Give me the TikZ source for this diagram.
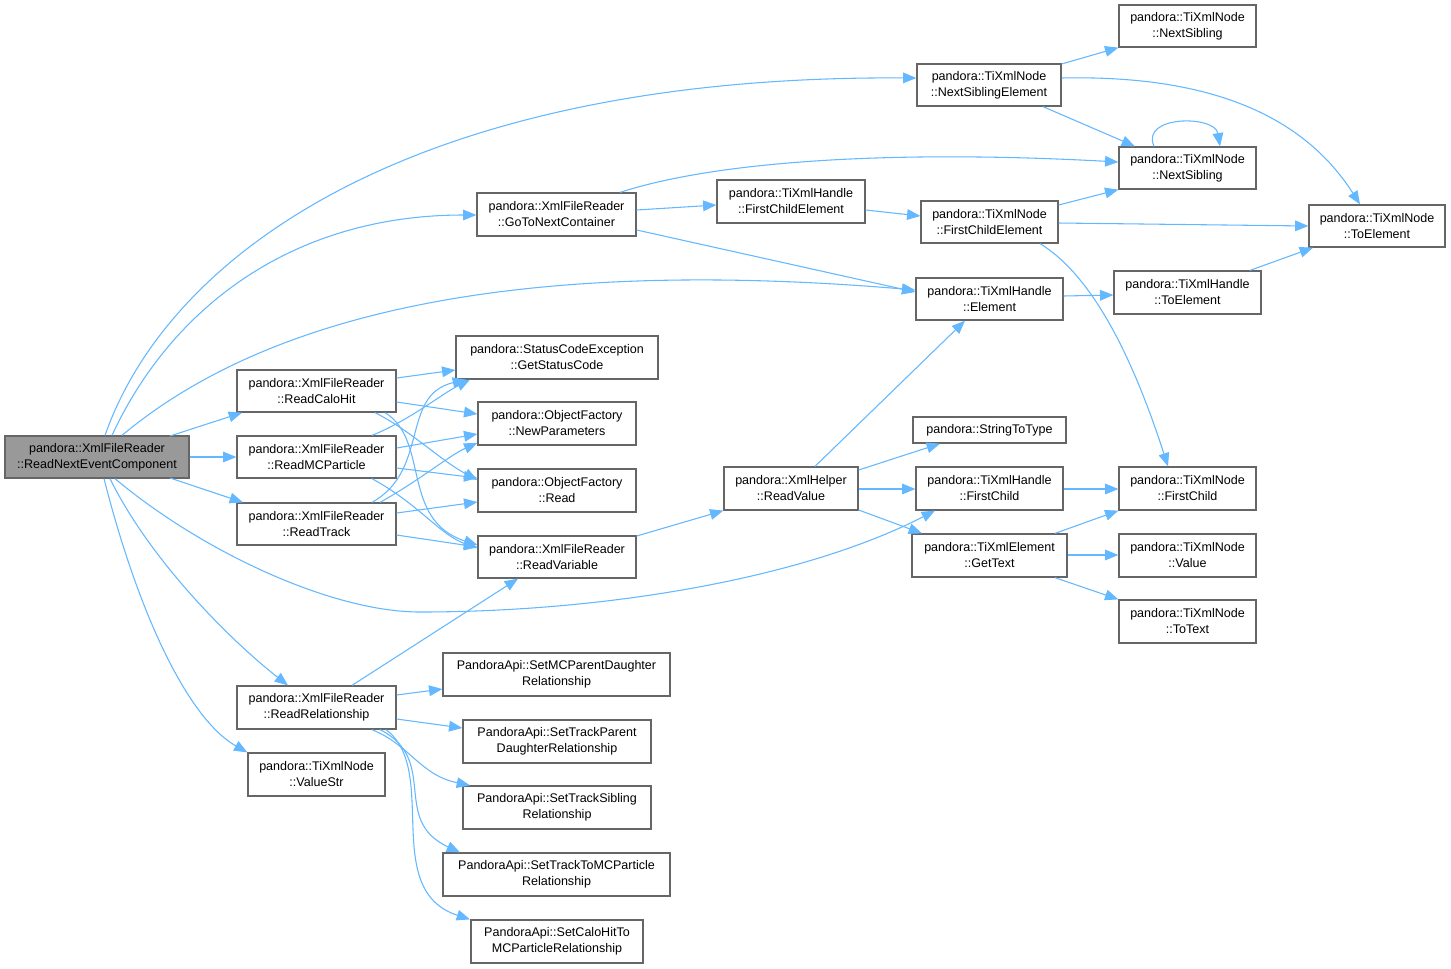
\documentclass[tikz,border=0pt]{standalone}
\usepackage{fontspec}
\setmainfont{Liberation Sans}
\usetikzlibrary{arrows.meta}
\definecolor{edgec}{HTML}{63B8FF}
\definecolor{borderc}{HTML}{666666}
\definecolor{rootc}{HTML}{999999}
\tikzset{
  bx/.style n args={4}{draw=borderc, line width=0.95pt, fill=white, inner sep=0pt, align=center,
    font=\fontsize{9.4}{12}\selectfont, minimum width=(#3-#1)*0.75pt, minimum height=(#4-#2)*0.75pt,
    anchor=center, at={({(#1+#3)/2},{(#2+#4)/2})}},
  rootbx/.style={fill=rootc},
  ed/.style={draw=edgec, line width=0.8pt, -{Triangle[length=10pt,width=8pt]}},
}
\begin{document}
\begin{tikzpicture}[x=0.75pt,y=-0.75pt]
\useasboundingbox (0,0) rectangle (1451,968);
\fill[white] (0,0) rectangle (1451,968);
% nodes
\node[bx={5}{436}{189}{478}, rootbx] (root) {pandora::XmlFileReader\\::ReadNextEventComponent};
\node[bx={237}{370}{396}{412}] (rch) {pandora::XmlFileReader\\::ReadCaloHit};
\node[bx={237}{436}{396}{478}] (rmc) {pandora::XmlFileReader\\::ReadMCParticle};
\node[bx={237}{503}{396}{545}] (rtr) {pandora::XmlFileReader\\::ReadTrack};
\node[bx={237}{686}{396}{729}] (rrel) {pandora::XmlFileReader\\::ReadRelationship};
\node[bx={248}{753}{385}{796}] (vstr) {pandora::TiXmlNode\\::ValueStr};
\node[bx={477}{193}{636}{236}] (gtnc) {pandora::XmlFileReader\\::GoToNextContainer};
\node[bx={456}{336}{658}{379}] (gsc) {pandora::StatusCodeException\\::GetStatusCode};
\node[bx={478}{402}{636}{445}] (newp) {pandora::ObjectFactory\\::NewParameters};
\node[bx={478}{469}{636}{512}] (ofread) {pandora::ObjectFactory\\::Read};
\node[bx={478}{536}{636}{578}] (rvar) {pandora::XmlFileReader\\::ReadVariable};
\node[bx={443}{653}{670}{696}] (smcpd) {PandoraApi::SetMCParentDaughter\\Relationship};
\node[bx={463}{720}{651}{763}] (stpd) {PandoraApi::SetTrackParent\\DaughterRelationship};
\node[bx={463}{786}{651}{829}] (stsib) {PandoraApi::SetTrackSibling\\Relationship};
\node[bx={443}{853}{670}{896}] (sttmc) {PandoraApi::SetTrackToMCParticle\\Relationship};
\node[bx={471}{920}{643}{963}] (sch) {PandoraApi::SetCaloHitTo\\MCParticleRelationship};
\node[bx={717}{180}{865}{223}] (hfce) {pandora::TiXmlHandle\\::FirstChildElement};
\node[bx={724}{467}{858}{510}] (rval) {pandora::XmlHelper\\::ReadValue};
\node[bx={917}{64}{1061}{106}] (nse) {pandora::TiXmlNode\\::NextSiblingElement};
\node[bx={921}{201}{1058}{243}] (nfce) {pandora::TiXmlNode\\::FirstChildElement};
\node[bx={916}{278}{1063}{320}] (hel) {pandora::TiXmlHandle\\::Element};
\node[bx={913}{417}{1066}{443}] (s2t) {pandora::StringToType};
\node[bx={916}{467}{1063}{510}] (hfc) {pandora::TiXmlHandle\\::FirstChild};
\node[bx={912}{534}{1067}{577}] (gtxt) {pandora::TiXmlElement\\::GetText};
\node[bx={1119}{5}{1256}{47}] (ns1) {pandora::TiXmlNode\\::NextSibling};
\node[bx={1119}{147}{1256}{189}] (ns2) {pandora::TiXmlNode\\::NextSibling};
\node[bx={1114}{271}{1261}{314}] (hte) {pandora::TiXmlHandle\\::ToElement};
\node[bx={1309}{205}{1445}{247}] (nte) {pandora::TiXmlNode\\::ToElement};
\node[bx={1119}{467}{1256}{510}] (nfc) {pandora::TiXmlNode\\::FirstChild};
\node[bx={1119}{534}{1256}{577}] (nval) {pandora::TiXmlNode\\::Value};
\node[bx={1119}{600}{1256}{643}] (ntt) {pandora::TiXmlNode\\::ToText};
% edges from root
\draw[ed] (root.north -| 105,0) .. controls (170,250) and (420,75) .. (nse.west |- 0,78);
\draw[ed] (root.north -| 112,0) .. controls (170,310) and (290,215) .. (gtnc.west |- 0,215);
\draw[ed] (root.north -| 122,0) .. controls (260,320) and (500,255) .. (hel.west |- 0,290);
\draw[ed] (170,436) -- (rch.south -| 242,0);
\draw[ed] (root.east) -- (rmc.west);
\draw[ed] (170,478) -- (rtr.north -| 243,0);
\draw[ed] (root.south -| 115,0) .. controls (200,550) and (330,612) .. (420,612) .. controls (600,612) and (800,580) .. (hfc.south -| 935,0);
\draw[ed] (root.south -| 110,0) .. controls (150,560) and (230,640) .. (rrel.north -| 288,0);
\draw[ed] (root.south -| 104,0) .. controls (140,620) and (190,720) .. (vstr.north west);
% ReadCaloHit
\draw[ed] (rch.east |- 0,378) -- (gsc.west |- 0,370);
\draw[ed] (rch.east |- 0,402) -- (newp.west |- 0,414);
\draw[ed] (rch.south -| 375,0) .. controls (410,430) and (440,460) .. (ofread.west |- 0,480);
\draw[ed] (rch.south -| 385,0) .. controls (430,440) and (400,520) .. (rvar.west |- 0,545);
% ReadMCParticle
\draw[ed] (rmc.north -| 372,0) .. controls (410,420) and (440,395) .. (gsc.south -| 470,0);
\draw[ed] (rmc.east |- 0,448) -- (newp.west |- 0,434);
\draw[ed] (rmc.east |- 0,468) -- (ofread.west |- 0,478);
\draw[ed] (rmc.south -| 372,0) .. controls (420,505) and (440,535) .. (rvar.west |- 0,548);
% ReadTrack
\draw[ed] (rtr.north -| 372,0) .. controls (430,470) and (400,395) .. (gsc.south -| 466,0);
\draw[ed] (rtr.north -| 380,0) .. controls (420,480) and (450,455) .. (newp.west |- 0,443);
\draw[ed] (rtr.east |- 0,513) -- (ofread.west |- 0,502);
\draw[ed] (rtr.east |- 0,535) -- (rvar.west |- 0,547);
% ReadRelationship
\draw[ed] (rrel.north -| 352,0) -- (rvar.south -| 518,0);
\draw[ed] (rrel.east |- 0,695) -- (smcpd.west |- 0,689);
\draw[ed] (rrel.east |- 0,719) -- (stpd.west |- 0,728);
\draw[ed] (rrel.south -| 372,0) .. controls (410,745) and (420,775) .. (stsib.north -| 470,0);
\draw[ed] (rrel.south -| 380,0) .. controls (440,760) and (390,820) .. (sttmc.north -| 460,0);
\draw[ed] (rrel.south -| 386,0) .. controls (440,770) and (380,890) .. (sch.north -| 470,0);
% GoToNextContainer
\draw[ed] (gtnc.east |- 0,210) -- (hfce.west |- 0,205);
\draw[ed] (gtnc.east |- 0,230) -- (hel.west |- 0,292);
\draw[ed] (gtnc.north -| 620,0) .. controls (720,160) and (900,150) .. (ns2.west |- 0,162);
\draw[ed] (hfce.east |- 0,210) -- (nfce.west |- 0,216);
% TiXmlNode FirstChildElement
\draw[ed] (nfce.east |- 0,205) -- (ns2.south west);
\draw[ed] (nfce.east |- 0,223) -- (nte.west |- 0,226);
\draw[ed] (nfce.south -| 1040,0) .. controls (1100,280) and (1140,380) .. (nfc.north -| 1168,0);
% NextSiblingElement
\draw[ed] (nse.east |- 0,64) -- (ns1.south west);
\draw[ed] (nse.south -| 1043,0) -- (ns2.north -| 1135,0);
\draw[ed] (nse.east |- 0,78) .. controls (1200,75) and (1300,110) .. (nte.north -| 1360,0);
\draw[ed] (ns2.north -| 1154,0) .. controls (1140,115) and (1215,115) .. (ns2.north -| 1220,0);
% Element
\draw[ed] (hel.east |- 0,296) -- (hte.west |- 0,295);
\draw[ed] (hte.north -| 1250,0) -- (nte.south -| 1313,0);
% ReadVariable / ReadValue
\draw[ed] (rvar.east |- 0,536) -- (rval.south west);
\draw[ed] (rval.north -| 815,0) -- (hel.south -| 965,0);
\draw[ed] (rval.east |- 0,470) -- (s2t.south -| 940,0);
\draw[ed] (rval.east |- 0,489) -- (hfc.west |- 0,489);
\draw[ed] (rval.east |- 0,510) -- (gtxt.north -| 922,0);
\draw[ed] (hfc.east |- 0,489) -- (nfc.west |- 0,489);
\draw[ed] (gtxt.north -| 1055,0) -- (nfc.south west);
\draw[ed] (gtxt.east |- 0,555) -- (nval.west |- 0,555);
\draw[ed] (gtxt.south -| 1055,0) -- (ntt.north west);
\end{tikzpicture}
\end{document}
